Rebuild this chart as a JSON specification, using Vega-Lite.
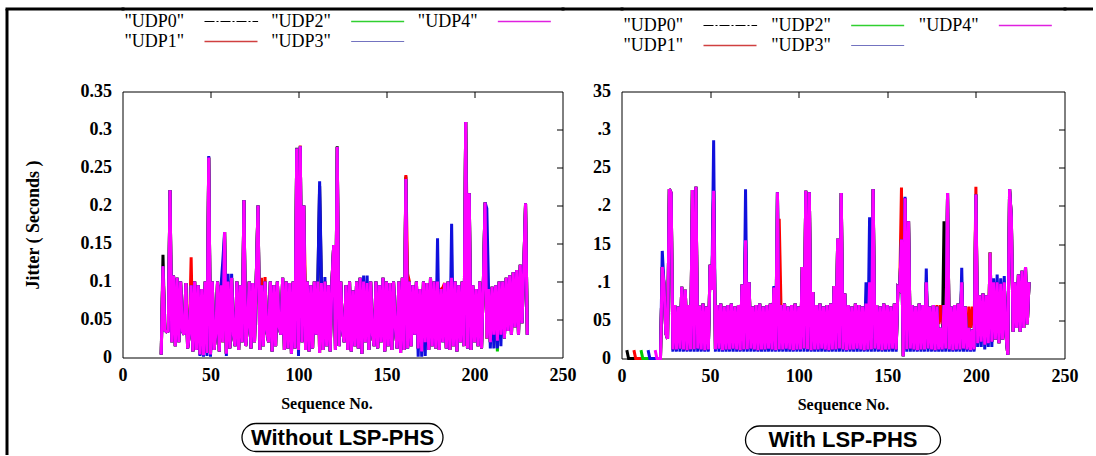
{
"$schema":"https://vega.github.io/schema/vega-lite/v6.json",
"background":"white",
"padding":{"left":6.5,"top":8.5,"right":0,"bottom":0},
"autosize":{"type":"pad"},
"columns":5,
"spacing":{"row":0,"column":0},
"bounds":"flush",
"align":{"row":"each","column":"each"},
"config":{
"view":{"stroke":null},
"axis":{"grid":false,"domain":false,"ticks":false,"labelFlush":false,"labelOverlap":false,"labelFont":"Liberation Serif","labelFontWeight":"bold","labelFontSize":18,"labelColor":"black","titleFont":"Liberation Serif","titleFontWeight":"bold","titleColor":"black","titleFontSize":16}
},
"datasets":{
"one":[{"k":1}],
"legend":[
{"series":"UDP0","label":"\"UDP0\"","col":0,"row":0},
{"series":"UDP1","label":"\"UDP1\"","col":0,"row":1},
{"series":"UDP2","label":"\"UDP2\"","col":1,"row":0},
{"series":"UDP3","label":"\"UDP3\"","col":1,"row":1},
{"series":"UDP4","label":"\"UDP4\"","col":2,"row":0}],
"left":[
{"seq":22,"UDP0":0.004,"UDP1":0.004,"UDP2":0.004,"UDP3":0.004,"UDP4":0.004},
{"seq":23,"UDP0":0.135,"UDP1":0.12,"UDP2":0.12,"UDP3":0.12,"UDP4":0.12},
{"seq":24,"UDP0":0.036,"UDP1":0.036,"UDP2":0.036,"UDP3":0.036,"UDP4":0.036},
{"seq":25,"UDP0":0.034,"UDP1":0.034,"UDP2":0.034,"UDP3":0.034,"UDP4":0.034},
{"seq":26,"UDP0":0.035,"UDP1":0.035,"UDP2":0.035,"UDP3":0.035,"UDP4":0.035},
{"seq":27,"UDP0":0.22,"UDP1":0.22,"UDP2":0.22,"UDP3":0.22,"UDP4":0.22},
{"seq":28,"UDP0":0.02,"UDP1":0.02,"UDP2":0.02,"UDP3":0.02,"UDP4":0.02},
{"seq":29,"UDP0":0.108,"UDP1":0.108,"UDP2":0.108,"UDP3":0.108,"UDP4":0.108},
{"seq":30,"UDP0":0.015,"UDP1":0.015,"UDP2":0.015,"UDP3":0.015,"UDP4":0.015},
{"seq":31,"UDP0":0.105,"UDP1":0.105,"UDP2":0.105,"UDP3":0.105,"UDP4":0.105},
{"seq":32,"UDP0":0.02,"UDP1":0.02,"UDP2":0.02,"UDP3":0.02,"UDP4":0.02},
{"seq":33,"UDP0":0.1,"UDP1":0.1,"UDP2":0.1,"UDP3":0.1,"UDP4":0.1},
{"seq":34,"UDP0":0.035,"UDP1":0.035,"UDP2":0.035,"UDP3":0.035,"UDP4":0.035},
{"seq":35,"UDP0":0.03,"UDP1":0.03,"UDP2":0.03,"UDP3":0.03,"UDP4":0.03},
{"seq":36,"UDP0":0.098,"UDP1":0.098,"UDP2":0.098,"UDP3":0.098,"UDP4":0.098},
{"seq":37,"UDP0":0.012,"UDP1":0.012,"UDP2":0.012,"UDP3":0.012,"UDP4":0.012},
{"seq":38,"UDP0":0.03,"UDP1":0.03,"UDP2":0.03,"UDP3":0.03,"UDP4":0.03},
{"seq":39,"UDP0":0.095,"UDP1":0.132,"UDP2":0.095,"UDP3":0.095,"UDP4":0.095},
{"seq":40,"UDP0":0.008,"UDP1":0.008,"UDP2":0.008,"UDP3":0.008,"UDP4":0.008},
{"seq":41,"UDP0":0.1,"UDP1":0.1,"UDP2":0.1,"UDP3":0.1,"UDP4":0.1},
{"seq":42,"UDP0":0.01,"UDP1":0.01,"UDP2":0.01,"UDP3":0.01,"UDP4":0.01},
{"seq":43,"UDP0":0.095,"UDP1":0.095,"UDP2":0.095,"UDP3":0.095,"UDP4":0.095},
{"seq":44,"UDP0":0.004,"UDP1":0.004,"UDP2":0.004,"UDP3":0.002,"UDP4":0.004},
{"seq":45,"UDP0":0.09,"UDP1":0.09,"UDP2":0.09,"UDP3":0.09,"UDP4":0.09},
{"seq":46,"UDP0":0.003,"UDP1":0.003,"UDP2":0.003,"UDP3":0.001,"UDP4":0.003},
{"seq":47,"UDP0":0.1,"UDP1":0.1,"UDP2":0.1,"UDP3":0.1,"UDP4":0.1},
{"seq":48,"UDP0":0.006,"UDP1":0.006,"UDP2":0.006,"UDP3":0.002,"UDP4":0.006},
{"seq":49,"UDP0":0.263,"UDP1":0.263,"UDP2":0.263,"UDP3":0.265,"UDP4":0.263},
{"seq":50,"UDP0":0.004,"UDP1":0.004,"UDP2":0.004,"UDP3":0.001,"UDP4":0.004},
{"seq":51,"UDP0":0.1,"UDP1":0.1,"UDP2":0.1,"UDP3":0.1,"UDP4":0.1},
{"seq":52,"UDP0":0.01,"UDP1":0.01,"UDP2":0.01,"UDP3":0.01,"UDP4":0.01},
{"seq":53,"UDP0":0.03,"UDP1":0.03,"UDP2":0.03,"UDP3":0.03,"UDP4":0.03},
{"seq":54,"UDP0":0.1,"UDP1":0.1,"UDP2":0.1,"UDP3":0.1,"UDP4":0.1},
{"seq":55,"UDP0":0.008,"UDP1":0.008,"UDP2":0.008,"UDP3":0.008,"UDP4":0.008},
{"seq":56,"UDP0":0.095,"UDP1":0.095,"UDP2":0.095,"UDP3":0.095,"UDP4":0.095},
{"seq":57,"UDP0":0.02,"UDP1":0.02,"UDP2":0.02,"UDP3":0.127,"UDP4":0.02},
{"seq":58,"UDP0":0.165,"UDP1":0.165,"UDP2":0.165,"UDP3":0.165,"UDP4":0.165},
{"seq":59,"UDP0":0.005,"UDP1":0.005,"UDP2":0.005,"UDP3":0.002,"UDP4":0.005},
{"seq":60,"UDP0":0.1,"UDP1":0.1,"UDP2":0.1,"UDP3":0.11,"UDP4":0.1},
{"seq":61,"UDP0":0.012,"UDP1":0.012,"UDP2":0.012,"UDP3":0.012,"UDP4":0.012},
{"seq":62,"UDP0":0.105,"UDP1":0.105,"UDP2":0.105,"UDP3":0.11,"UDP4":0.105},
{"seq":63,"UDP0":0.03,"UDP1":0.03,"UDP2":0.03,"UDP3":0.03,"UDP4":0.03},
{"seq":64,"UDP0":0.015,"UDP1":0.015,"UDP2":0.015,"UDP3":0.015,"UDP4":0.015},
{"seq":65,"UDP0":0.1,"UDP1":0.1,"UDP2":0.1,"UDP3":0.1,"UDP4":0.1},
{"seq":66,"UDP0":0.01,"UDP1":0.01,"UDP2":0.01,"UDP3":0.01,"UDP4":0.01},
{"seq":67,"UDP0":0.095,"UDP1":0.095,"UDP2":0.095,"UDP3":0.095,"UDP4":0.095},
{"seq":68,"UDP0":0.02,"UDP1":0.02,"UDP2":0.02,"UDP3":0.02,"UDP4":0.02},
{"seq":69,"UDP0":0.207,"UDP1":0.207,"UDP2":0.207,"UDP3":0.207,"UDP4":0.207},
{"seq":70,"UDP0":0.015,"UDP1":0.015,"UDP2":0.015,"UDP3":0.015,"UDP4":0.015},
{"seq":71,"UDP0":0.04,"UDP1":0.04,"UDP2":0.04,"UDP3":0.04,"UDP4":0.04},
{"seq":72,"UDP0":0.1,"UDP1":0.1,"UDP2":0.1,"UDP3":0.1,"UDP4":0.1},
{"seq":73,"UDP0":0.012,"UDP1":0.012,"UDP2":0.012,"UDP3":0.012,"UDP4":0.012},
{"seq":74,"UDP0":0.098,"UDP1":0.098,"UDP2":0.098,"UDP3":0.098,"UDP4":0.098},
{"seq":75,"UDP0":0.02,"UDP1":0.02,"UDP2":0.02,"UDP3":0.02,"UDP4":0.02},
{"seq":76,"UDP0":0.105,"UDP1":0.105,"UDP2":0.105,"UDP3":0.105,"UDP4":0.105},
{"seq":77,"UDP0":0.2,"UDP1":0.2,"UDP2":0.2,"UDP3":0.2,"UDP4":0.2},
{"seq":78,"UDP0":0.01,"UDP1":0.01,"UDP2":0.01,"UDP3":0.01,"UDP4":0.01},
{"seq":79,"UDP0":0.095,"UDP1":0.105,"UDP2":0.095,"UDP3":0.095,"UDP4":0.095},
{"seq":80,"UDP0":0.015,"UDP1":0.015,"UDP2":0.015,"UDP3":0.015,"UDP4":0.015},
{"seq":81,"UDP0":0.1,"UDP1":0.106,"UDP2":0.1,"UDP3":0.1,"UDP4":0.1},
{"seq":82,"UDP0":0.035,"UDP1":0.035,"UDP2":0.035,"UDP3":0.035,"UDP4":0.035},
{"seq":83,"UDP0":0.02,"UDP1":0.02,"UDP2":0.02,"UDP3":0.02,"UDP4":0.02},
{"seq":84,"UDP0":0.1,"UDP1":0.1,"UDP2":0.1,"UDP3":0.1,"UDP4":0.1},
{"seq":85,"UDP0":0.008,"UDP1":0.008,"UDP2":0.008,"UDP3":0.008,"UDP4":0.008},
{"seq":86,"UDP0":0.095,"UDP1":0.095,"UDP2":0.095,"UDP3":0.095,"UDP4":0.095},
{"seq":87,"UDP0":0.015,"UDP1":0.015,"UDP2":0.015,"UDP3":0.015,"UDP4":0.015},
{"seq":88,"UDP0":0.1,"UDP1":0.1,"UDP2":0.1,"UDP3":0.1,"UDP4":0.1},
{"seq":89,"UDP0":0.04,"UDP1":0.04,"UDP2":0.04,"UDP3":0.04,"UDP4":0.04},
{"seq":90,"UDP0":0.03,"UDP1":0.03,"UDP2":0.03,"UDP3":0.03,"UDP4":0.03},
{"seq":91,"UDP0":0.105,"UDP1":0.105,"UDP2":0.105,"UDP3":0.105,"UDP4":0.105},
{"seq":92,"UDP0":0.01,"UDP1":0.01,"UDP2":0.01,"UDP3":0.01,"UDP4":0.01},
{"seq":93,"UDP0":0.1,"UDP1":0.1,"UDP2":0.1,"UDP3":0.1,"UDP4":0.1},
{"seq":94,"UDP0":0.012,"UDP1":0.012,"UDP2":0.012,"UDP3":0.012,"UDP4":0.012},
{"seq":95,"UDP0":0.098,"UDP1":0.098,"UDP2":0.098,"UDP3":0.098,"UDP4":0.098},
{"seq":96,"UDP0":0.005,"UDP1":0.005,"UDP2":0.005,"UDP3":0.005,"UDP4":0.005},
{"seq":97,"UDP0":0.1,"UDP1":0.1,"UDP2":0.1,"UDP3":0.1,"UDP4":0.1},
{"seq":98,"UDP0":0.012,"UDP1":0.012,"UDP2":0.012,"UDP3":0.012,"UDP4":0.012},
{"seq":99,"UDP0":0.276,"UDP1":0.275,"UDP2":0.275,"UDP3":0.275,"UDP4":0.275},
{"seq":100,"UDP0":0.01,"UDP1":0.01,"UDP2":0.01,"UDP3":0.002,"UDP4":0.01},
{"seq":101,"UDP0":0.277,"UDP1":0.279,"UDP2":0.278,"UDP3":0.278,"UDP4":0.278},
{"seq":102,"UDP0":0.02,"UDP1":0.02,"UDP2":0.02,"UDP3":0.02,"UDP4":0.02},
{"seq":103,"UDP0":0.2,"UDP1":0.2,"UDP2":0.2,"UDP3":0.2,"UDP4":0.2},
{"seq":104,"UDP0":0.01,"UDP1":0.078,"UDP2":0.01,"UDP3":0.01,"UDP4":0.01},
{"seq":105,"UDP0":0.1,"UDP1":0.1,"UDP2":0.1,"UDP3":0.1,"UDP4":0.1},
{"seq":106,"UDP0":0.008,"UDP1":0.008,"UDP2":0.008,"UDP3":0.008,"UDP4":0.008},
{"seq":107,"UDP0":0.095,"UDP1":0.095,"UDP2":0.095,"UDP3":0.095,"UDP4":0.095},
{"seq":108,"UDP0":0.012,"UDP1":0.012,"UDP2":0.012,"UDP3":0.012,"UDP4":0.012},
{"seq":109,"UDP0":0.1,"UDP1":0.1,"UDP2":0.1,"UDP3":0.1,"UDP4":0.1},
{"seq":110,"UDP0":0.03,"UDP1":0.03,"UDP2":0.03,"UDP3":0.03,"UDP4":0.03},
{"seq":111,"UDP0":0.1,"UDP1":0.1,"UDP2":0.1,"UDP3":0.1,"UDP4":0.1},
{"seq":112,"UDP0":0.226,"UDP1":0.006,"UDP2":0.006,"UDP3":0.232,"UDP4":0.006},
{"seq":113,"UDP0":0.098,"UDP1":0.098,"UDP2":0.098,"UDP3":0.105,"UDP4":0.098},
{"seq":114,"UDP0":0.01,"UDP1":0.01,"UDP2":0.01,"UDP3":0.01,"UDP4":0.01},
{"seq":115,"UDP0":0.1,"UDP1":0.1,"UDP2":0.1,"UDP3":0.106,"UDP4":0.1},
{"seq":116,"UDP0":0.015,"UDP1":0.015,"UDP2":0.015,"UDP3":0.015,"UDP4":0.015},
{"seq":117,"UDP0":0.095,"UDP1":0.095,"UDP2":0.095,"UDP3":0.095,"UDP4":0.095},
{"seq":118,"UDP0":0.008,"UDP1":0.008,"UDP2":0.008,"UDP3":0.008,"UDP4":0.008},
{"seq":119,"UDP0":0.1,"UDP1":0.1,"UDP2":0.1,"UDP3":0.1,"UDP4":0.1},
{"seq":120,"UDP0":0.148,"UDP1":0.148,"UDP2":0.148,"UDP3":0.148,"UDP4":0.148},
{"seq":121,"UDP0":0.01,"UDP1":0.01,"UDP2":0.01,"UDP3":0.01,"UDP4":0.01},
{"seq":122,"UDP0":0.278,"UDP1":0.277,"UDP2":0.277,"UDP3":0.277,"UDP4":0.277},
{"seq":123,"UDP0":0.015,"UDP1":0.015,"UDP2":0.015,"UDP3":0.015,"UDP4":0.015},
{"seq":124,"UDP0":0.1,"UDP1":0.1,"UDP2":0.1,"UDP3":0.1,"UDP4":0.1},
{"seq":125,"UDP0":0.035,"UDP1":0.035,"UDP2":0.035,"UDP3":0.035,"UDP4":0.035},
{"seq":126,"UDP0":0.02,"UDP1":0.02,"UDP2":0.02,"UDP3":0.02,"UDP4":0.02},
{"seq":127,"UDP0":0.095,"UDP1":0.095,"UDP2":0.095,"UDP3":0.095,"UDP4":0.095},
{"seq":128,"UDP0":0.01,"UDP1":0.01,"UDP2":0.01,"UDP3":0.01,"UDP4":0.01},
{"seq":129,"UDP0":0.1,"UDP1":0.1,"UDP2":0.1,"UDP3":0.1,"UDP4":0.1},
{"seq":130,"UDP0":0.008,"UDP1":0.008,"UDP2":0.008,"UDP3":0.008,"UDP4":0.008},
{"seq":131,"UDP0":0.088,"UDP1":0.088,"UDP2":0.088,"UDP3":0.088,"UDP4":0.088},
{"seq":132,"UDP0":0.015,"UDP1":0.015,"UDP2":0.015,"UDP3":0.015,"UDP4":0.015},
{"seq":133,"UDP0":0.1,"UDP1":0.1,"UDP2":0.1,"UDP3":0.1,"UDP4":0.1},
{"seq":134,"UDP0":0.012,"UDP1":0.012,"UDP2":0.012,"UDP3":0.012,"UDP4":0.012},
{"seq":135,"UDP0":0.105,"UDP1":0.105,"UDP2":0.105,"UDP3":0.105,"UDP4":0.105},
{"seq":136,"UDP0":0.005,"UDP1":0.005,"UDP2":0.005,"UDP3":0.005,"UDP4":0.005},
{"seq":137,"UDP0":0.1,"UDP1":0.1,"UDP2":0.1,"UDP3":0.108,"UDP4":0.1},
{"seq":138,"UDP0":0.02,"UDP1":0.02,"UDP2":0.02,"UDP3":0.02,"UDP4":0.02},
{"seq":139,"UDP0":0.098,"UDP1":0.098,"UDP2":0.098,"UDP3":0.108,"UDP4":0.098},
{"seq":140,"UDP0":0.01,"UDP1":0.01,"UDP2":0.01,"UDP3":0.01,"UDP4":0.01},
{"seq":141,"UDP0":0.1,"UDP1":0.1,"UDP2":0.1,"UDP3":0.1,"UDP4":0.1},
{"seq":142,"UDP0":0.03,"UDP1":0.03,"UDP2":0.03,"UDP3":0.03,"UDP4":0.03},
{"seq":143,"UDP0":0.015,"UDP1":0.015,"UDP2":0.015,"UDP3":0.015,"UDP4":0.015},
{"seq":144,"UDP0":0.1,"UDP1":0.1,"UDP2":0.1,"UDP3":0.1,"UDP4":0.1},
{"seq":145,"UDP0":0.012,"UDP1":0.012,"UDP2":0.012,"UDP3":0.012,"UDP4":0.012},
{"seq":146,"UDP0":0.095,"UDP1":0.095,"UDP2":0.095,"UDP3":0.095,"UDP4":0.095},
{"seq":147,"UDP0":0.02,"UDP1":0.02,"UDP2":0.02,"UDP3":0.02,"UDP4":0.02},
{"seq":148,"UDP0":0.105,"UDP1":0.105,"UDP2":0.105,"UDP3":0.105,"UDP4":0.105},
{"seq":149,"UDP0":0.008,"UDP1":0.008,"UDP2":0.008,"UDP3":0.008,"UDP4":0.008},
{"seq":150,"UDP0":0.1,"UDP1":0.1,"UDP2":0.1,"UDP3":0.1,"UDP4":0.1},
{"seq":151,"UDP0":0.015,"UDP1":0.015,"UDP2":0.015,"UDP3":0.015,"UDP4":0.015},
{"seq":152,"UDP0":0.098,"UDP1":0.098,"UDP2":0.098,"UDP3":0.098,"UDP4":0.098},
{"seq":153,"UDP0":0.01,"UDP1":0.01,"UDP2":0.01,"UDP3":0.01,"UDP4":0.01},
{"seq":154,"UDP0":0.1,"UDP1":0.1,"UDP2":0.1,"UDP3":0.1,"UDP4":0.1},
{"seq":155,"UDP0":0.04,"UDP1":0.04,"UDP2":0.04,"UDP3":0.04,"UDP4":0.04},
{"seq":156,"UDP0":0.012,"UDP1":0.012,"UDP2":0.012,"UDP3":0.012,"UDP4":0.012},
{"seq":157,"UDP0":0.1,"UDP1":0.1,"UDP2":0.1,"UDP3":0.1,"UDP4":0.1},
{"seq":158,"UDP0":0.006,"UDP1":0.006,"UDP2":0.006,"UDP3":0.006,"UDP4":0.006},
{"seq":159,"UDP0":0.105,"UDP1":0.105,"UDP2":0.105,"UDP3":0.105,"UDP4":0.105},
{"seq":160,"UDP0":0.01,"UDP1":0.01,"UDP2":0.01,"UDP3":0.01,"UDP4":0.01},
{"seq":161,"UDP0":0.238,"UDP1":0.24,"UDP2":0.235,"UDP3":0.235,"UDP4":0.235},
{"seq":162,"UDP0":0.012,"UDP1":0.11,"UDP2":0.012,"UDP3":0.012,"UDP4":0.012},
{"seq":163,"UDP0":0.1,"UDP1":0.1,"UDP2":0.1,"UDP3":0.1,"UDP4":0.1},
{"seq":164,"UDP0":0.015,"UDP1":0.015,"UDP2":0.015,"UDP3":0.015,"UDP4":0.015},
{"seq":165,"UDP0":0.095,"UDP1":0.095,"UDP2":0.095,"UDP3":0.095,"UDP4":0.095},
{"seq":166,"UDP0":0.03,"UDP1":0.03,"UDP2":0.03,"UDP3":0.03,"UDP4":0.03},
{"seq":167,"UDP0":0.1,"UDP1":0.1,"UDP2":0.1,"UDP3":0.1,"UDP4":0.1},
{"seq":168,"UDP0":0.012,"UDP1":0.012,"UDP2":0.012,"UDP3":0.001,"UDP4":0.012},
{"seq":169,"UDP0":0.09,"UDP1":0.09,"UDP2":0.09,"UDP3":0.09,"UDP4":0.09},
{"seq":170,"UDP0":0.008,"UDP1":0.008,"UDP2":0.008,"UDP3":0.001,"UDP4":0.008},
{"seq":171,"UDP0":0.1,"UDP1":0.1,"UDP2":0.1,"UDP3":0.1,"UDP4":0.1},
{"seq":172,"UDP0":0.02,"UDP1":0.02,"UDP2":0.02,"UDP3":0.002,"UDP4":0.02},
{"seq":173,"UDP0":0.098,"UDP1":0.098,"UDP2":0.098,"UDP3":0.098,"UDP4":0.098},
{"seq":174,"UDP0":0.01,"UDP1":0.01,"UDP2":0.01,"UDP3":0.01,"UDP4":0.01},
{"seq":175,"UDP0":0.105,"UDP1":0.105,"UDP2":0.105,"UDP3":0.105,"UDP4":0.105},
{"seq":176,"UDP0":0.015,"UDP1":0.015,"UDP2":0.015,"UDP3":0.015,"UDP4":0.015},
{"seq":177,"UDP0":0.1,"UDP1":0.1,"UDP2":0.1,"UDP3":0.1,"UDP4":0.1},
{"seq":178,"UDP0":0.012,"UDP1":0.012,"UDP2":0.012,"UDP3":0.012,"UDP4":0.012},
{"seq":179,"UDP0":0.1,"UDP1":0.1,"UDP2":0.1,"UDP3":0.157,"UDP4":0.1},
{"seq":180,"UDP0":0.01,"UDP1":0.01,"UDP2":0.01,"UDP3":0.01,"UDP4":0.01},
{"seq":181,"UDP0":0.09,"UDP1":0.09,"UDP2":0.09,"UDP3":0.09,"UDP4":0.09},
{"seq":182,"UDP0":0.02,"UDP1":0.092,"UDP2":0.02,"UDP3":0.02,"UDP4":0.02},
{"seq":183,"UDP0":0.098,"UDP1":0.098,"UDP2":0.098,"UDP3":0.098,"UDP4":0.098},
{"seq":184,"UDP0":0.012,"UDP1":0.012,"UDP2":0.012,"UDP3":0.012,"UDP4":0.012},
{"seq":185,"UDP0":0.1,"UDP1":0.1,"UDP2":0.1,"UDP3":0.1,"UDP4":0.1},
{"seq":186,"UDP0":0.01,"UDP1":0.01,"UDP2":0.01,"UDP3":0.01,"UDP4":0.01},
{"seq":187,"UDP0":0.105,"UDP1":0.105,"UDP2":0.105,"UDP3":0.176,"UDP4":0.105},
{"seq":188,"UDP0":0.015,"UDP1":0.015,"UDP2":0.015,"UDP3":0.015,"UDP4":0.015},
{"seq":189,"UDP0":0.1,"UDP1":0.1,"UDP2":0.1,"UDP3":0.1,"UDP4":0.1},
{"seq":190,"UDP0":0.008,"UDP1":0.008,"UDP2":0.008,"UDP3":0.008,"UDP4":0.008},
{"seq":191,"UDP0":0.095,"UDP1":0.095,"UDP2":0.095,"UDP3":0.095,"UDP4":0.095},
{"seq":192,"UDP0":0.02,"UDP1":0.02,"UDP2":0.02,"UDP3":0.02,"UDP4":0.02},
{"seq":193,"UDP0":0.1,"UDP1":0.1,"UDP2":0.1,"UDP3":0.1,"UDP4":0.1},
{"seq":194,"UDP0":0.015,"UDP1":0.015,"UDP2":0.015,"UDP3":0.015,"UDP4":0.015},
{"seq":195,"UDP0":0.31,"UDP1":0.31,"UDP2":0.31,"UDP3":0.31,"UDP4":0.31},
{"seq":196,"UDP0":0.012,"UDP1":0.14,"UDP2":0.012,"UDP3":0.012,"UDP4":0.012},
{"seq":197,"UDP0":0.216,"UDP1":0.216,"UDP2":0.216,"UDP3":0.216,"UDP4":0.216},
{"seq":198,"UDP0":0.01,"UDP1":0.01,"UDP2":0.01,"UDP3":0.01,"UDP4":0.01},
{"seq":199,"UDP0":0.095,"UDP1":0.095,"UDP2":0.095,"UDP3":0.095,"UDP4":0.095},
{"seq":200,"UDP0":0.02,"UDP1":0.02,"UDP2":0.02,"UDP3":0.02,"UDP4":0.02},
{"seq":201,"UDP0":0.09,"UDP1":0.09,"UDP2":0.09,"UDP3":0.09,"UDP4":0.09},
{"seq":202,"UDP0":0.015,"UDP1":0.015,"UDP2":0.015,"UDP3":0.015,"UDP4":0.015},
{"seq":203,"UDP0":0.1,"UDP1":0.1,"UDP2":0.1,"UDP3":0.1,"UDP4":0.1},
{"seq":204,"UDP0":0.012,"UDP1":0.012,"UDP2":0.012,"UDP3":0.012,"UDP4":0.012},
{"seq":205,"UDP0":0.095,"UDP1":0.095,"UDP2":0.095,"UDP3":0.095,"UDP4":0.095},
{"seq":206,"UDP0":0.204,"UDP1":0.204,"UDP2":0.204,"UDP3":0.204,"UDP4":0.204},
{"seq":207,"UDP0":0.025,"UDP1":0.025,"UDP2":0.025,"UDP3":0.196,"UDP4":0.025},
{"seq":208,"UDP0":0.09,"UDP1":0.09,"UDP2":0.09,"UDP3":0.09,"UDP4":0.09},
{"seq":209,"UDP0":0.02,"UDP1":0.02,"UDP2":0.02,"UDP3":0.012,"UDP4":0.02},
{"seq":210,"UDP0":0.093,"UDP1":0.093,"UDP2":0.093,"UDP3":0.093,"UDP4":0.093},
{"seq":211,"UDP0":0.03,"UDP1":0.03,"UDP2":0.03,"UDP3":0.012,"UDP4":0.03},
{"seq":212,"UDP0":0.095,"UDP1":0.095,"UDP2":0.095,"UDP3":0.095,"UDP4":0.095},
{"seq":213,"UDP0":0.022,"UDP1":0.022,"UDP2":0.008,"UDP3":0.012,"UDP4":0.022},
{"seq":214,"UDP0":0.1,"UDP1":0.1,"UDP2":0.1,"UDP3":0.1,"UDP4":0.1},
{"seq":215,"UDP0":0.03,"UDP1":0.03,"UDP2":0.03,"UDP3":0.015,"UDP4":0.03},
{"seq":216,"UDP0":0.1,"UDP1":0.1,"UDP2":0.1,"UDP3":0.1,"UDP4":0.1},
{"seq":217,"UDP0":0.025,"UDP1":0.025,"UDP2":0.025,"UDP3":0.025,"UDP4":0.025},
{"seq":218,"UDP0":0.105,"UDP1":0.105,"UDP2":0.105,"UDP3":0.105,"UDP4":0.105},
{"seq":219,"UDP0":0.035,"UDP1":0.035,"UDP2":0.035,"UDP3":0.035,"UDP4":0.035},
{"seq":220,"UDP0":0.108,"UDP1":0.108,"UDP2":0.108,"UDP3":0.108,"UDP4":0.108},
{"seq":221,"UDP0":0.03,"UDP1":0.03,"UDP2":0.03,"UDP3":0.03,"UDP4":0.03},
{"seq":222,"UDP0":0.112,"UDP1":0.112,"UDP2":0.112,"UDP3":0.112,"UDP4":0.112},
{"seq":223,"UDP0":0.04,"UDP1":0.04,"UDP2":0.04,"UDP3":0.04,"UDP4":0.04},
{"seq":224,"UDP0":0.115,"UDP1":0.115,"UDP2":0.115,"UDP3":0.115,"UDP4":0.115},
{"seq":225,"UDP0":0.03,"UDP1":0.03,"UDP2":0.03,"UDP3":0.03,"UDP4":0.03},
{"seq":226,"UDP0":0.122,"UDP1":0.122,"UDP2":0.122,"UDP3":0.122,"UDP4":0.122},
{"seq":227,"UDP0":0.045,"UDP1":0.045,"UDP2":0.045,"UDP3":0.045,"UDP4":0.045},
{"seq":228,"UDP0":0.118,"UDP1":0.118,"UDP2":0.118,"UDP3":0.118,"UDP4":0.118},
{"seq":229,"UDP0":0.203,"UDP1":0.203,"UDP2":0.203,"UDP3":0.203,"UDP4":0.203},
{"seq":230,"UDP0":0.03,"UDP1":0.03,"UDP2":0.03,"UDP3":0.03,"UDP4":0.03}
],
"right":[
{"seq":3,"UDP0":0.011},{"seq":4,"UDP0":0},
{"seq":7,"UDP1":0.011},{"seq":8,"UDP1":0},
{"seq":11,"UDP2":0.011},{"seq":12,"UDP2":0},
{"seq":15,"UDP3":0.011},{"seq":16,"UDP3":0},
{"seq":19,"UDP4":0.011},{"seq":20,"UDP4":0},
{"seq":22,"UDP0":0,"UDP1":0,"UDP2":0,"UDP3":0,"UDP4":0},
{"seq":23,"UDP0":0.12,"UDP1":0.12,"UDP2":0.12,"UDP3":0.141,"UDP4":0.12},
{"seq":24,"UDP0":0.097,"UDP1":0.097,"UDP2":0.097,"UDP3":0.097,"UDP4":0.097},
{"seq":25,"UDP0":0.033,"UDP1":0.033,"UDP2":0.033,"UDP3":0.033,"UDP4":0.033},
{"seq":26,"UDP0":0.026,"UDP1":0.026,"UDP2":0.026,"UDP3":0.026,"UDP4":0.026},
{"seq":27,"UDP0":0.222,"UDP1":0.222,"UDP2":0.222,"UDP3":0.222,"UDP4":0.222},
{"seq":28,"UDP0":0.217,"UDP1":0.217,"UDP2":0.217,"UDP3":0.217,"UDP4":0.217},
{"seq":29,"UDP0":0.012,"UDP1":0.012,"UDP2":0.012,"UDP3":0.009,"UDP4":0.012},
{"seq":30,"UDP0":0.07,"UDP1":0.07,"UDP2":0.07,"UDP3":0.07,"UDP4":0.07},
{"seq":31,"UDP0":0.012,"UDP1":0.012,"UDP2":0.012,"UDP3":0.009,"UDP4":0.012},
{"seq":32,"UDP0":0.068,"UDP1":0.068,"UDP2":0.068,"UDP3":0.068,"UDP4":0.068},
{"seq":33,"UDP0":0.013,"UDP1":0.013,"UDP2":0.013,"UDP3":0.009,"UDP4":0.013},
{"seq":34,"UDP0":0.094,"UDP1":0.094,"UDP2":0.094,"UDP3":0.094,"UDP4":0.094},
{"seq":35,"UDP0":0.012,"UDP1":0.012,"UDP2":0.012,"UDP3":0.009,"UDP4":0.012},
{"seq":36,"UDP0":0.09,"UDP1":0.09,"UDP2":0.09,"UDP3":0.09,"UDP4":0.09},
{"seq":37,"UDP0":0.011,"UDP1":0.011,"UDP2":0.011,"UDP3":0.009,"UDP4":0.011},
{"seq":38,"UDP0":0.07,"UDP1":0.07,"UDP2":0.07,"UDP3":0.07,"UDP4":0.07},
{"seq":39,"UDP0":0.012,"UDP1":0.012,"UDP2":0.012,"UDP3":0.009,"UDP4":0.012},
{"seq":40,"UDP0":0.221,"UDP1":0.221,"UDP2":0.221,"UDP3":0.221,"UDP4":0.221},
{"seq":41,"UDP0":0.012,"UDP1":0.012,"UDP2":0.012,"UDP3":0.009,"UDP4":0.012},
{"seq":42,"UDP0":0.225,"UDP1":0.225,"UDP2":0.225,"UDP3":0.225,"UDP4":0.225},
{"seq":43,"UDP0":0.013,"UDP1":0.013,"UDP2":0.013,"UDP3":0.009,"UDP4":0.013},
{"seq":44,"UDP0":0.069,"UDP1":0.069,"UDP2":0.069,"UDP3":0.069,"UDP4":0.069},
{"seq":45,"UDP0":0.012,"UDP1":0.012,"UDP2":0.012,"UDP3":0.009,"UDP4":0.012},
{"seq":46,"UDP0":0.072,"UDP1":0.072,"UDP2":0.072,"UDP3":0.072,"UDP4":0.072},
{"seq":47,"UDP0":0.011,"UDP1":0.011,"UDP2":0.011,"UDP3":0.009,"UDP4":0.011},
{"seq":48,"UDP0":0.068,"UDP1":0.068,"UDP2":0.068,"UDP3":0.068,"UDP4":0.068},
{"seq":49,"UDP0":0.012,"UDP1":0.012,"UDP2":0.012,"UDP3":0.009,"UDP4":0.012},
{"seq":50,"UDP0":0.123,"UDP1":0.123,"UDP2":0.123,"UDP3":0.123,"UDP4":0.123},
{"seq":51,"UDP0":0.09,"UDP1":0.09,"UDP2":0.09,"UDP3":0.09,"UDP4":0.09},
{"seq":52,"UDP0":0.22,"UDP1":0.22,"UDP2":0.22,"UDP3":0.286,"UDP4":0.22},
{"seq":53,"UDP0":0.012,"UDP1":0.012,"UDP2":0.012,"UDP3":0.009,"UDP4":0.012},
{"seq":54,"UDP0":0.07,"UDP1":0.07,"UDP2":0.07,"UDP3":0.07,"UDP4":0.07},
{"seq":55,"UDP0":0.013,"UDP1":0.013,"UDP2":0.013,"UDP3":0.009,"UDP4":0.013},
{"seq":56,"UDP0":0.072,"UDP1":0.072,"UDP2":0.072,"UDP3":0.072,"UDP4":0.072},
{"seq":57,"UDP0":0.011,"UDP1":0.011,"UDP2":0.011,"UDP3":0.009,"UDP4":0.011},
{"seq":58,"UDP0":0.068,"UDP1":0.068,"UDP2":0.068,"UDP3":0.068,"UDP4":0.068},
{"seq":59,"UDP0":0.012,"UDP1":0.012,"UDP2":0.012,"UDP3":0.009,"UDP4":0.012},
{"seq":60,"UDP0":0.07,"UDP1":0.07,"UDP2":0.07,"UDP3":0.07,"UDP4":0.07},
{"seq":61,"UDP0":0.012,"UDP1":0.012,"UDP2":0.012,"UDP3":0.009,"UDP4":0.012},
{"seq":62,"UDP0":0.072,"UDP1":0.072,"UDP2":0.072,"UDP3":0.072,"UDP4":0.072},
{"seq":63,"UDP0":0.013,"UDP1":0.013,"UDP2":0.013,"UDP3":0.009,"UDP4":0.013},
{"seq":64,"UDP0":0.068,"UDP1":0.068,"UDP2":0.068,"UDP3":0.068,"UDP4":0.068},
{"seq":65,"UDP0":0.012,"UDP1":0.012,"UDP2":0.012,"UDP3":0.009,"UDP4":0.012},
{"seq":66,"UDP0":0.07,"UDP1":0.07,"UDP2":0.07,"UDP3":0.07,"UDP4":0.07},
{"seq":67,"UDP0":0.011,"UDP1":0.011,"UDP2":0.011,"UDP3":0.009,"UDP4":0.011},
{"seq":68,"UDP0":0.097,"UDP1":0.097,"UDP2":0.097,"UDP3":0.097,"UDP4":0.097},
{"seq":69,"UDP0":0.012,"UDP1":0.012,"UDP2":0.012,"UDP3":0.009,"UDP4":0.012},
{"seq":70,"UDP0":0.155,"UDP1":0.155,"UDP2":0.155,"UDP3":0.222,"UDP4":0.155},
{"seq":71,"UDP0":0.012,"UDP1":0.012,"UDP2":0.012,"UDP3":0.009,"UDP4":0.012},
{"seq":72,"UDP0":0.1,"UDP1":0.1,"UDP2":0.1,"UDP3":0.1,"UDP4":0.1},
{"seq":73,"UDP0":0.013,"UDP1":0.013,"UDP2":0.013,"UDP3":0.009,"UDP4":0.013},
{"seq":74,"UDP0":0.068,"UDP1":0.068,"UDP2":0.068,"UDP3":0.068,"UDP4":0.068},
{"seq":75,"UDP0":0.012,"UDP1":0.012,"UDP2":0.012,"UDP3":0.009,"UDP4":0.012},
{"seq":76,"UDP0":0.07,"UDP1":0.07,"UDP2":0.07,"UDP3":0.07,"UDP4":0.07},
{"seq":77,"UDP0":0.011,"UDP1":0.011,"UDP2":0.011,"UDP3":0.009,"UDP4":0.011},
{"seq":78,"UDP0":0.072,"UDP1":0.072,"UDP2":0.072,"UDP3":0.072,"UDP4":0.072},
{"seq":79,"UDP0":0.012,"UDP1":0.012,"UDP2":0.012,"UDP3":0.009,"UDP4":0.012},
{"seq":80,"UDP0":0.068,"UDP1":0.068,"UDP2":0.068,"UDP3":0.068,"UDP4":0.068},
{"seq":81,"UDP0":0.012,"UDP1":0.012,"UDP2":0.012,"UDP3":0.009,"UDP4":0.012},
{"seq":82,"UDP0":0.07,"UDP1":0.07,"UDP2":0.07,"UDP3":0.07,"UDP4":0.07},
{"seq":83,"UDP0":0.013,"UDP1":0.013,"UDP2":0.013,"UDP3":0.009,"UDP4":0.013},
{"seq":84,"UDP0":0.072,"UDP1":0.072,"UDP2":0.072,"UDP3":0.072,"UDP4":0.072},
{"seq":85,"UDP0":0.012,"UDP1":0.012,"UDP2":0.012,"UDP3":0.009,"UDP4":0.012},
{"seq":86,"UDP0":0.093,"UDP1":0.093,"UDP2":0.093,"UDP3":0.095,"UDP4":0.093},
{"seq":87,"UDP0":0.011,"UDP1":0.011,"UDP2":0.011,"UDP3":0.009,"UDP4":0.011},
{"seq":88,"UDP0":0.218,"UDP1":0.07,"UDP2":0.218,"UDP3":0.218,"UDP4":0.218},
{"seq":89,"UDP0":0.012,"UDP1":0.183,"UDP2":0.012,"UDP3":0.009,"UDP4":0.012},
{"seq":90,"UDP0":0.07,"UDP1":0.07,"UDP2":0.07,"UDP3":0.07,"UDP4":0.07},
{"seq":91,"UDP0":0.012,"UDP1":0.012,"UDP2":0.012,"UDP3":0.009,"UDP4":0.012},
{"seq":92,"UDP0":0.072,"UDP1":0.072,"UDP2":0.072,"UDP3":0.072,"UDP4":0.072},
{"seq":93,"UDP0":0.013,"UDP1":0.013,"UDP2":0.013,"UDP3":0.009,"UDP4":0.013},
{"seq":94,"UDP0":0.068,"UDP1":0.068,"UDP2":0.068,"UDP3":0.068,"UDP4":0.068},
{"seq":95,"UDP0":0.012,"UDP1":0.012,"UDP2":0.012,"UDP3":0.009,"UDP4":0.012},
{"seq":96,"UDP0":0.07,"UDP1":0.07,"UDP2":0.07,"UDP3":0.07,"UDP4":0.07},
{"seq":97,"UDP0":0.011,"UDP1":0.011,"UDP2":0.011,"UDP3":0.009,"UDP4":0.011},
{"seq":98,"UDP0":0.072,"UDP1":0.072,"UDP2":0.072,"UDP3":0.072,"UDP4":0.072},
{"seq":99,"UDP0":0.012,"UDP1":0.012,"UDP2":0.012,"UDP3":0.009,"UDP4":0.012},
{"seq":100,"UDP0":0.068,"UDP1":0.068,"UDP2":0.068,"UDP3":0.068,"UDP4":0.068},
{"seq":101,"UDP0":0.012,"UDP1":0.012,"UDP2":0.012,"UDP3":0.009,"UDP4":0.012},
{"seq":102,"UDP0":0.12,"UDP1":0.12,"UDP2":0.12,"UDP3":0.12,"UDP4":0.12},
{"seq":103,"UDP0":0.013,"UDP1":0.013,"UDP2":0.013,"UDP3":0.009,"UDP4":0.013},
{"seq":104,"UDP0":0.22,"UDP1":0.22,"UDP2":0.22,"UDP3":0.22,"UDP4":0.22},
{"seq":105,"UDP0":0.012,"UDP1":0.012,"UDP2":0.012,"UDP3":0.009,"UDP4":0.012},
{"seq":106,"UDP0":0.218,"UDP1":0.218,"UDP2":0.218,"UDP3":0.218,"UDP4":0.218},
{"seq":107,"UDP0":0.011,"UDP1":0.011,"UDP2":0.011,"UDP3":0.009,"UDP4":0.011},
{"seq":108,"UDP0":0.087,"UDP1":0.087,"UDP2":0.087,"UDP3":0.087,"UDP4":0.087},
{"seq":109,"UDP0":0.012,"UDP1":0.012,"UDP2":0.012,"UDP3":0.009,"UDP4":0.012},
{"seq":110,"UDP0":0.07,"UDP1":0.07,"UDP2":0.07,"UDP3":0.07,"UDP4":0.07},
{"seq":111,"UDP0":0.012,"UDP1":0.012,"UDP2":0.012,"UDP3":0.009,"UDP4":0.012},
{"seq":112,"UDP0":0.072,"UDP1":0.072,"UDP2":0.072,"UDP3":0.072,"UDP4":0.072},
{"seq":113,"UDP0":0.013,"UDP1":0.013,"UDP2":0.013,"UDP3":0.009,"UDP4":0.013},
{"seq":114,"UDP0":0.068,"UDP1":0.068,"UDP2":0.068,"UDP3":0.068,"UDP4":0.068},
{"seq":115,"UDP0":0.012,"UDP1":0.012,"UDP2":0.012,"UDP3":0.009,"UDP4":0.012},
{"seq":116,"UDP0":0.07,"UDP1":0.07,"UDP2":0.07,"UDP3":0.07,"UDP4":0.07},
{"seq":117,"UDP0":0.011,"UDP1":0.011,"UDP2":0.011,"UDP3":0.009,"UDP4":0.011},
{"seq":118,"UDP0":0.072,"UDP1":0.072,"UDP2":0.072,"UDP3":0.072,"UDP4":0.072},
{"seq":119,"UDP0":0.012,"UDP1":0.012,"UDP2":0.012,"UDP3":0.009,"UDP4":0.012},
{"seq":120,"UDP0":0.095,"UDP1":0.095,"UDP2":0.095,"UDP3":0.095,"UDP4":0.095},
{"seq":121,"UDP0":0.012,"UDP1":0.012,"UDP2":0.012,"UDP3":0.009,"UDP4":0.012},
{"seq":122,"UDP0":0.157,"UDP1":0.157,"UDP2":0.157,"UDP3":0.157,"UDP4":0.157},
{"seq":123,"UDP0":0.013,"UDP1":0.013,"UDP2":0.013,"UDP3":0.009,"UDP4":0.013},
{"seq":124,"UDP0":0.217,"UDP1":0.217,"UDP2":0.217,"UDP3":0.217,"UDP4":0.217},
{"seq":125,"UDP0":0.012,"UDP1":0.012,"UDP2":0.012,"UDP3":0.009,"UDP4":0.012},
{"seq":126,"UDP0":0.085,"UDP1":0.085,"UDP2":0.085,"UDP3":0.085,"UDP4":0.085},
{"seq":127,"UDP0":0.011,"UDP1":0.011,"UDP2":0.011,"UDP3":0.009,"UDP4":0.011},
{"seq":128,"UDP0":0.07,"UDP1":0.07,"UDP2":0.07,"UDP3":0.07,"UDP4":0.07},
{"seq":129,"UDP0":0.012,"UDP1":0.012,"UDP2":0.012,"UDP3":0.009,"UDP4":0.012},
{"seq":130,"UDP0":0.068,"UDP1":0.068,"UDP2":0.068,"UDP3":0.068,"UDP4":0.068},
{"seq":131,"UDP0":0.012,"UDP1":0.012,"UDP2":0.012,"UDP3":0.009,"UDP4":0.012},
{"seq":132,"UDP0":0.072,"UDP1":0.072,"UDP2":0.072,"UDP3":0.072,"UDP4":0.072},
{"seq":133,"UDP0":0.013,"UDP1":0.013,"UDP2":0.013,"UDP3":0.009,"UDP4":0.013},
{"seq":134,"UDP0":0.07,"UDP1":0.07,"UDP2":0.07,"UDP3":0.07,"UDP4":0.07},
{"seq":135,"UDP0":0.012,"UDP1":0.012,"UDP2":0.012,"UDP3":0.009,"UDP4":0.012},
{"seq":136,"UDP0":0.068,"UDP1":0.068,"UDP2":0.068,"UDP3":0.068,"UDP4":0.068},
{"seq":137,"UDP0":0.011,"UDP1":0.011,"UDP2":0.011,"UDP3":0.009,"UDP4":0.011},
{"seq":138,"UDP0":0.072,"UDP1":0.072,"UDP2":0.072,"UDP3":0.1,"UDP4":0.072},
{"seq":139,"UDP0":0.012,"UDP1":0.012,"UDP2":0.012,"UDP3":0.009,"UDP4":0.012},
{"seq":140,"UDP0":0.1,"UDP1":0.1,"UDP2":0.1,"UDP3":0.185,"UDP4":0.1},
{"seq":141,"UDP0":0.012,"UDP1":0.012,"UDP2":0.012,"UDP3":0.009,"UDP4":0.012},
{"seq":142,"UDP0":0.222,"UDP1":0.222,"UDP2":0.222,"UDP3":0.222,"UDP4":0.222},
{"seq":143,"UDP0":0.013,"UDP1":0.013,"UDP2":0.013,"UDP3":0.009,"UDP4":0.013},
{"seq":144,"UDP0":0.07,"UDP1":0.07,"UDP2":0.07,"UDP3":0.07,"UDP4":0.07},
{"seq":145,"UDP0":0.012,"UDP1":0.012,"UDP2":0.012,"UDP3":0.009,"UDP4":0.012},
{"seq":146,"UDP0":0.068,"UDP1":0.068,"UDP2":0.068,"UDP3":0.068,"UDP4":0.068},
{"seq":147,"UDP0":0.011,"UDP1":0.011,"UDP2":0.011,"UDP3":0.009,"UDP4":0.011},
{"seq":148,"UDP0":0.072,"UDP1":0.072,"UDP2":0.072,"UDP3":0.072,"UDP4":0.072},
{"seq":149,"UDP0":0.012,"UDP1":0.012,"UDP2":0.012,"UDP3":0.009,"UDP4":0.012},
{"seq":150,"UDP0":0.07,"UDP1":0.07,"UDP2":0.07,"UDP3":0.07,"UDP4":0.07},
{"seq":151,"UDP0":0.012,"UDP1":0.012,"UDP2":0.012,"UDP3":0.009,"UDP4":0.012},
{"seq":152,"UDP0":0.068,"UDP1":0.068,"UDP2":0.068,"UDP3":0.068,"UDP4":0.068},
{"seq":153,"UDP0":0.013,"UDP1":0.013,"UDP2":0.013,"UDP3":0.009,"UDP4":0.013},
{"seq":154,"UDP0":0.072,"UDP1":0.072,"UDP2":0.072,"UDP3":0.072,"UDP4":0.072},
{"seq":155,"UDP0":0.012,"UDP1":0.012,"UDP2":0.012,"UDP3":0.009,"UDP4":0.012},
{"seq":156,"UDP0":0.093,"UDP1":0.093,"UDP2":0.093,"UDP3":0.093,"UDP4":0.093},
{"seq":157,"UDP0":0.09,"UDP1":0.09,"UDP2":0.09,"UDP3":0.09,"UDP4":0.09},
{"seq":158,"UDP0":0.156,"UDP1":0.224,"UDP2":0.156,"UDP3":0.156,"UDP4":0.156},
{"seq":159,"UDP0":0.003,"UDP1":0.003,"UDP2":0.003,"UDP3":0.003,"UDP4":0.003},
{"seq":160,"UDP0":0.21,"UDP1":0.21,"UDP2":0.21,"UDP3":0.212,"UDP4":0.21},
{"seq":161,"UDP0":0.012,"UDP1":0.012,"UDP2":0.012,"UDP3":0.009,"UDP4":0.012},
{"seq":162,"UDP0":0.18,"UDP1":0.18,"UDP2":0.18,"UDP3":0.18,"UDP4":0.18},
{"seq":163,"UDP0":0.013,"UDP1":0.013,"UDP2":0.013,"UDP3":0.009,"UDP4":0.013},
{"seq":164,"UDP0":0.07,"UDP1":0.07,"UDP2":0.07,"UDP3":0.07,"UDP4":0.07},
{"seq":165,"UDP0":0.012,"UDP1":0.012,"UDP2":0.012,"UDP3":0.009,"UDP4":0.012},
{"seq":166,"UDP0":0.068,"UDP1":0.068,"UDP2":0.068,"UDP3":0.068,"UDP4":0.068},
{"seq":167,"UDP0":0.011,"UDP1":0.011,"UDP2":0.011,"UDP3":0.009,"UDP4":0.011},
{"seq":168,"UDP0":0.072,"UDP1":0.072,"UDP2":0.072,"UDP3":0.072,"UDP4":0.072},
{"seq":169,"UDP0":0.012,"UDP1":0.012,"UDP2":0.012,"UDP3":0.009,"UDP4":0.012},
{"seq":170,"UDP0":0.07,"UDP1":0.07,"UDP2":0.07,"UDP3":0.07,"UDP4":0.07},
{"seq":171,"UDP0":0.012,"UDP1":0.012,"UDP2":0.012,"UDP3":0.009,"UDP4":0.012},
{"seq":172,"UDP0":0.1,"UDP1":0.1,"UDP2":0.1,"UDP3":0.118,"UDP4":0.1},
{"seq":173,"UDP0":0.013,"UDP1":0.013,"UDP2":0.013,"UDP3":0.009,"UDP4":0.013},
{"seq":174,"UDP0":0.068,"UDP1":0.068,"UDP2":0.068,"UDP3":0.068,"UDP4":0.068},
{"seq":175,"UDP0":0.012,"UDP1":0.012,"UDP2":0.012,"UDP3":0.009,"UDP4":0.012},
{"seq":176,"UDP0":0.07,"UDP1":0.07,"UDP2":0.07,"UDP3":0.07,"UDP4":0.07},
{"seq":177,"UDP0":0.011,"UDP1":0.011,"UDP2":0.011,"UDP3":0.009,"UDP4":0.011},
{"seq":178,"UDP0":0.068,"UDP1":0.07,"UDP2":0.068,"UDP3":0.068,"UDP4":0.068},
{"seq":179,"UDP0":0.012,"UDP1":0.045,"UDP2":0.012,"UDP3":0.009,"UDP4":0.012},
{"seq":180,"UDP0":0.04,"UDP1":0.07,"UDP2":0.04,"UDP3":0.04,"UDP4":0.04},
{"seq":181,"UDP0":0.012,"UDP1":0.045,"UDP2":0.012,"UDP3":0.009,"UDP4":0.012},
{"seq":182,"UDP0":0.18,"UDP1":0.07,"UDP2":0.07,"UDP3":0.07,"UDP4":0.07},
{"seq":183,"UDP0":0.013,"UDP1":0.013,"UDP2":0.013,"UDP3":0.009,"UDP4":0.013},
{"seq":184,"UDP0":0.217,"UDP1":0.217,"UDP2":0.217,"UDP3":0.217,"UDP4":0.217},
{"seq":185,"UDP0":0.012,"UDP1":0.012,"UDP2":0.012,"UDP3":0.009,"UDP4":0.012},
{"seq":186,"UDP0":0.068,"UDP1":0.068,"UDP2":0.068,"UDP3":0.068,"UDP4":0.068},
{"seq":187,"UDP0":0.011,"UDP1":0.011,"UDP2":0.011,"UDP3":0.009,"UDP4":0.011},
{"seq":188,"UDP0":0.07,"UDP1":0.07,"UDP2":0.07,"UDP3":0.07,"UDP4":0.07},
{"seq":189,"UDP0":0.012,"UDP1":0.012,"UDP2":0.012,"UDP3":0.009,"UDP4":0.012},
{"seq":190,"UDP0":0.072,"UDP1":0.072,"UDP2":0.072,"UDP3":0.072,"UDP4":0.072},
{"seq":191,"UDP0":0.012,"UDP1":0.012,"UDP2":0.012,"UDP3":0.009,"UDP4":0.012},
{"seq":192,"UDP0":0.1,"UDP1":0.1,"UDP2":0.1,"UDP3":0.119,"UDP4":0.1},
{"seq":193,"UDP0":0.013,"UDP1":0.013,"UDP2":0.013,"UDP3":0.009,"UDP4":0.013},
{"seq":194,"UDP0":0.068,"UDP1":0.068,"UDP2":0.068,"UDP3":0.068,"UDP4":0.068},
{"seq":195,"UDP0":0.012,"UDP1":0.012,"UDP2":0.012,"UDP3":0.009,"UDP4":0.012},
{"seq":196,"UDP0":0.04,"UDP1":0.068,"UDP2":0.04,"UDP3":0.04,"UDP4":0.04},
{"seq":197,"UDP0":0.011,"UDP1":0.04,"UDP2":0.011,"UDP3":0.009,"UDP4":0.011},
{"seq":198,"UDP0":0.038,"UDP1":0.068,"UDP2":0.038,"UDP3":0.038,"UDP4":0.038},
{"seq":199,"UDP0":0.012,"UDP1":0.04,"UDP2":0.012,"UDP3":0.009,"UDP4":0.012},
{"seq":200,"UDP0":0.215,"UDP1":0.225,"UDP2":0.215,"UDP3":0.215,"UDP4":0.215},
{"seq":201,"UDP0":0.02,"UDP1":0.02,"UDP2":0.02,"UDP3":0.015,"UDP4":0.02},
{"seq":202,"UDP0":0.083,"UDP1":0.083,"UDP2":0.083,"UDP3":0.083,"UDP4":0.083},
{"seq":203,"UDP0":0.022,"UDP1":0.022,"UDP2":0.022,"UDP3":0.015,"UDP4":0.022},
{"seq":204,"UDP0":0.085,"UDP1":0.085,"UDP2":0.085,"UDP3":0.085,"UDP4":0.085},
{"seq":205,"UDP0":0.018,"UDP1":0.018,"UDP2":0.018,"UDP3":0.012,"UDP4":0.018},
{"seq":206,"UDP0":0.083,"UDP1":0.083,"UDP2":0.083,"UDP3":0.083,"UDP4":0.083},
{"seq":207,"UDP0":0.02,"UDP1":0.02,"UDP2":0.02,"UDP3":0.015,"UDP4":0.02},
{"seq":208,"UDP0":0.139,"UDP1":0.139,"UDP2":0.139,"UDP3":0.1,"UDP4":0.139},
{"seq":209,"UDP0":0.022,"UDP1":0.022,"UDP2":0.022,"UDP3":0.015,"UDP4":0.022},
{"seq":210,"UDP0":0.1,"UDP1":0.1,"UDP2":0.1,"UDP3":0.105,"UDP4":0.1},
{"seq":211,"UDP0":0.025,"UDP1":0.025,"UDP2":0.025,"UDP3":0.025,"UDP4":0.025},
{"seq":212,"UDP0":0.1,"UDP1":0.1,"UDP2":0.1,"UDP3":0.11,"UDP4":0.1},
{"seq":213,"UDP0":0.02,"UDP1":0.02,"UDP2":0.02,"UDP3":0.02,"UDP4":0.02},
{"seq":214,"UDP0":0.098,"UDP1":0.098,"UDP2":0.098,"UDP3":0.105,"UDP4":0.098},
{"seq":215,"UDP0":0.025,"UDP1":0.025,"UDP2":0.025,"UDP3":0.025,"UDP4":0.025},
{"seq":216,"UDP0":0.1,"UDP1":0.1,"UDP2":0.1,"UDP3":0.108,"UDP4":0.1},
{"seq":217,"UDP0":0.03,"UDP1":0.03,"UDP2":0.03,"UDP3":0.03,"UDP4":0.03},
{"seq":218,"UDP0":0.005,"UDP1":0.005,"UDP2":0.005,"UDP3":0.005,"UDP4":0.005},
{"seq":219,"UDP0":0.222,"UDP1":0.222,"UDP2":0.222,"UDP3":0.222,"UDP4":0.222},
{"seq":220,"UDP0":0.185,"UDP1":0.185,"UDP2":0.185,"UDP3":0.185,"UDP4":0.185},
{"seq":221,"UDP0":0.035,"UDP1":0.035,"UDP2":0.035,"UDP3":0.035,"UDP4":0.035},
{"seq":222,"UDP0":0.1,"UDP1":0.1,"UDP2":0.1,"UDP3":0.1,"UDP4":0.1},
{"seq":223,"UDP0":0.04,"UDP1":0.04,"UDP2":0.04,"UDP3":0.04,"UDP4":0.04},
{"seq":224,"UDP0":0.11,"UDP1":0.11,"UDP2":0.11,"UDP3":0.11,"UDP4":0.11},
{"seq":225,"UDP0":0.035,"UDP1":0.035,"UDP2":0.035,"UDP3":0.035,"UDP4":0.035},
{"seq":226,"UDP0":0.115,"UDP1":0.115,"UDP2":0.115,"UDP3":0.115,"UDP4":0.115},
{"seq":227,"UDP0":0.04,"UDP1":0.04,"UDP2":0.04,"UDP3":0.04,"UDP4":0.04},
{"seq":228,"UDP0":0.12,"UDP1":0.12,"UDP2":0.12,"UDP3":0.12,"UDP4":0.12},
{"seq":229,"UDP0":0.045,"UDP1":0.045,"UDP2":0.045,"UDP3":0.045,"UDP4":0.045},
{"seq":230,"UDP0":0.1,"UDP1":0.1,"UDP2":0.1,"UDP3":0.1,"UDP4":0.1}
]
},
"concat":[
{"width":116,"height":83,"data":{"name":"one"},"mark":{"type":"point","opacity":0,"size":0,"strokeWidth":0},
 "encoding":{
  "x":{"datum":0,"type":"quantitative","scale":{"domain":[0,1],"nice":false},"axis":{"orient":"top","domain":true,"domainColor":"black","domainWidth":3,"domainCap":"square","labels":false,"ticks":false,"title":null}},
  "y":{"datum":0,"type":"quantitative","scale":{"domain":[0,1],"nice":false},"axis":{"orient":"left","domain":true,"domainColor":"black","domainWidth":3,"labels":false,"ticks":false,"title":null}}}},
{"width":440,"height":83,"data":{"name":"legend"},
 "encoding":{
  "x":{"field":"col","type":"quantitative","scale":{"domain":[0,3],"nice":false,"zero":false},"axis":{"orient":"top","domain":true,"domainColor":"black","domainWidth":3,"domainCap":"square","labels":false,"ticks":false,"title":null}},
  "y":{"field":"row","type":"quantitative","scale":{"domain":[-0.65,3.5],"reverse":true,"nice":false,"zero":false},"axis":null}},
 "layer":[
  {"mark":{"type":"text","align":"left","baseline":"middle","dx":2,"font":"Liberation Serif","fontSize":18,"fill":"black"},"encoding":{"text":{"field":"label"}}},
  {"transform":[{"filter":"datum.series == 'UDP0'"}],"mark":{"type":"rect","height":0.01,"xOffset":82,"x2Offset":135,"filled":false,"fill":null,"stroke":"#000000","strokeWidth":1.2,"strokeDash":[10,2,2,2]},"encoding":{"x2":{"field":"col"}}},
  {"transform":[{"filter":"datum.series == 'UDP1'"}],"mark":{"type":"rect","height":1.3,"xOffset":82,"x2Offset":135,"filled":true,"fill":"#d04040","stroke":null},"encoding":{"x2":{"field":"col"}}},
  {"transform":[{"filter":"datum.series == 'UDP2'"}],"mark":{"type":"rect","height":1.3,"xOffset":82,"x2Offset":135,"filled":true,"fill":"#30d030","stroke":null},"encoding":{"x2":{"field":"col"}}},
  {"transform":[{"filter":"datum.series == 'UDP3'"}],"mark":{"type":"rect","height":1.2,"xOffset":82,"x2Offset":135,"filled":true,"fill":"#5050b0","fillOpacity":0.8,"stroke":null},"encoding":{"x2":{"field":"col"}}},
  {"transform":[{"filter":"datum.series == 'UDP4'"}],"mark":{"type":"rect","height":1.3,"xOffset":82,"x2Offset":135,"filled":true,"fill":"#e020e0","stroke":null},"encoding":{"x2":{"field":"col"}}}]},
{"width":59,"height":0,"data":{"name":"one"},"mark":{"type":"point","opacity":0,"size":0,"strokeWidth":0},
 "encoding":{"x":{"datum":0,"type":"quantitative","scale":{"domain":[0,1],"nice":false},"axis":{"orient":"top","domain":true,"domainColor":"black","domainWidth":3,"domainCap":"square","labels":false,"ticks":false,"title":null}}}},
{"width":443,"height":83,"data":{"name":"legend"},
 "encoding":{
  "x":{"field":"col","type":"quantitative","scale":{"domain":[0,3],"nice":false,"zero":false},"axis":{"orient":"top","domain":true,"domainColor":"black","domainWidth":3,"domainCap":"square","labels":false,"ticks":false,"title":null}},
  "y":{"field":"row","type":"quantitative","scale":{"domain":[-0.85,3.3],"reverse":true,"nice":false,"zero":false},"axis":null}},
 "layer":[
  {"mark":{"type":"text","align":"left","baseline":"middle","dx":2,"font":"Liberation Serif","fontSize":18,"fill":"black"},"encoding":{"text":{"field":"label"}}},
  {"transform":[{"filter":"datum.series == 'UDP0'"}],"mark":{"type":"rect","height":0.01,"xOffset":82,"x2Offset":135,"filled":false,"fill":null,"stroke":"#000000","strokeWidth":1.2,"strokeDash":[10,2,2,2]},"encoding":{"x2":{"field":"col"}}},
  {"transform":[{"filter":"datum.series == 'UDP1'"}],"mark":{"type":"rect","height":1.3,"xOffset":82,"x2Offset":135,"filled":true,"fill":"#d04040","stroke":null},"encoding":{"x2":{"field":"col"}}},
  {"transform":[{"filter":"datum.series == 'UDP2'"}],"mark":{"type":"rect","height":1.3,"xOffset":82,"x2Offset":135,"filled":true,"fill":"#30d030","stroke":null},"encoding":{"x2":{"field":"col"}}},
  {"transform":[{"filter":"datum.series == 'UDP3'"}],"mark":{"type":"rect","height":1.2,"xOffset":82,"x2Offset":135,"filled":true,"fill":"#5050b0","fillOpacity":0.8,"stroke":null},"encoding":{"x2":{"field":"col"}}},
  {"transform":[{"filter":"datum.series == 'UDP4'"}],"mark":{"type":"rect","height":1.3,"xOffset":82,"x2Offset":135,"filled":true,"fill":"#e020e0","stroke":null},"encoding":{"x2":{"field":"col"}}}]},
{"width":28,"height":0,"data":{"name":"one"},"mark":{"type":"point","opacity":0,"size":0,"strokeWidth":0},
 "encoding":{"x":{"datum":0,"type":"quantitative","scale":{"domain":[0,1],"nice":false},"axis":{"orient":"top","domain":true,"domainColor":"black","domainWidth":3,"domainCap":"square","labels":false,"ticks":false,"title":null}}}},
{"width":116,"height":267,"data":{"name":"one"},"mark":{"type":"point","opacity":0,"size":0,"strokeWidth":0},
 "encoding":{"y":{"datum":0,"type":"quantitative","scale":{"domain":[0,1],"nice":false},"axis":{"orient":"left","domain":true,"domainColor":"black","domainWidth":3,"labels":false,"ticks":false,"title":null}}}},
{"width":440,"height":266,"view":{"stroke":"black","strokeWidth":1},
 "layer":[
  {"data":{"name":"left"},"transform":[{"fold":["UDP0","UDP1","UDP2","UDP3","UDP4"],"as":["series","jitter"]}],
   "mark":{"type":"line","strokeWidth":3,"invalid":"filter"},
   "encoding":{
    "x":{"field":"seq","type":"quantitative","scale":{"domain":[0,250],"nice":false,"zero":false},"axis":{"values":[0,50,100,150,200,250],"format":"d","labelPadding":9,"title":"Sequence No.","titleFontSize":16,"titlePadding":11,"titleX":204}},
    "y":{"field":"jitter","type":"quantitative","scale":{"domain":[0,0.35],"nice":false},"axis":{"values":[0,0.05,0.1,0.15,0.2,0.25,0.3,0.35],"format":".2~f","labelPadding":11,"title":"Jitter ( Seconds )","titleFontSize":18,"titlePadding":38}},
    "stroke":{"field":"series","type":"nominal","scale":{"domain":["UDP0","UDP1","UDP2","UDP3","UDP4"],"range":["#000000","#ff0000","#00cc00","#1010dd","#ff00ff"]},"legend":null}}},
  {"data":{"name":"one"},"mark":{"type":"point","opacity":0,"size":0,"strokeWidth":0},
   "encoding":{
    "x":{"datum":0,"type":"quantitative","axis":{"orient":"top","offset":-6,"values":[50,100,150,200],"ticks":true,"tickSize":6,"tickColor":"black","tickWidth":1,"labels":false,"title":null}},
    "y":{"datum":0,"type":"quantitative","axis":{"orient":"right","offset":-6,"values":[0.05,0.1,0.15,0.2,0.25,0.3],"ticks":true,"tickSize":6,"tickColor":"black","tickWidth":1,"labels":false,"title":null}}}}],
 "resolve":{"axis":{"x":"independent","y":"independent"}}},
{"width":0,"height":0,"data":{"name":"one"},"mark":{"type":"point","opacity":0,"size":0,"strokeWidth":0}},
{"width":443,"height":267,"view":{"stroke":"black","strokeWidth":1},
 "layer":[
  {"data":{"name":"right"},"transform":[{"fold":["UDP0","UDP1","UDP2","UDP3","UDP4"],"as":["series","jitter"]}],
   "mark":{"type":"line","strokeWidth":3,"invalid":"filter"},
   "encoding":{
    "x":{"field":"seq","type":"quantitative","scale":{"domain":[0,250],"nice":false,"zero":false},"axis":{"values":[0,50,100,150,200,250],"format":"d","labelPadding":9,"title":"Sequence No.","titleFontSize":16,"titlePadding":11}},
    "y":{"field":"jitter","type":"quantitative","scale":{"domain":[0,0.35],"nice":false},"axis":{"values":[0,0.05,0.1,0.15,0.2,0.25,0.3,0.35],"format":".2~f","labelPadding":11,"title":null,
      "labelExpr":"datum.label == '0.35' ? '35' : datum.label == '0.3' ? '.3' : datum.label == '0.25' ? '25' : datum.label == '0.2' ? '.2' : datum.label == '0.15' ? '15' : datum.label == '0.1' ? '.1' : datum.label == '0.05' ? '05' : '0'"}},
    "stroke":{"field":"series","type":"nominal","scale":{"domain":["UDP0","UDP1","UDP2","UDP3","UDP4"],"range":["#000000","#ff0000","#00cc00","#1010dd","#ff00ff"]},"legend":null}}},
  {"data":{"name":"one"},"mark":{"type":"point","opacity":0,"size":0,"strokeWidth":0},
   "encoding":{
    "x":{"datum":0,"type":"quantitative","axis":{"orient":"top","offset":-6,"values":[50,100,150,200],"ticks":true,"tickSize":6,"tickColor":"black","tickWidth":1,"labels":false,"title":null}},
    "y":{"datum":0,"type":"quantitative","axis":{"orient":"right","offset":-6,"values":[0.05,0.1,0.15,0.2,0.25,0.3],"ticks":true,"tickSize":6,"tickColor":"black","tickWidth":1,"labels":false,"title":null}}}}],
 "resolve":{"axis":{"x":"independent","y":"independent"}}},
{"width":0,"height":0,"data":{"name":"one"},"mark":{"type":"point","opacity":0,"size":0,"strokeWidth":0}},
{"width":116,"height":96,"data":{"name":"one"},"mark":{"type":"point","opacity":0,"size":0,"strokeWidth":0},
 "encoding":{"y":{"datum":0,"type":"quantitative","scale":{"domain":[0,1],"nice":false},"axis":{"orient":"left","domain":true,"domainColor":"black","domainWidth":3,"labels":false,"ticks":false,"title":null}}}},
{"width":440,"height":96,"data":{"name":"one"},
 "encoding":{"x":{"datum":0.5,"type":"quantitative","scale":{"domain":[0,1],"nice":false},"axis":null},"y":{"datum":0.823,"type":"quantitative","scale":{"domain":[0,1],"reverse":true,"nice":false},"axis":null}},
 "layer":[
  {"mark":{"type":"rect","width":201,"height":28,"cornerRadius":14,"fill":"white","stroke":"black","strokeWidth":1.3}},
  {"mark":{"type":"text","text":"Without LSP-PHS","font":"Liberation Sans","fontWeight":"bold","fontSize":22,"fill":"black","align":"center","baseline":"middle"}}]},
{"width":0,"height":0,"data":{"name":"one"},"mark":{"type":"point","opacity":0,"size":0,"strokeWidth":0}},
{"width":443,"height":96,"data":{"name":"one"},
 "encoding":{"x":{"datum":0.5,"type":"quantitative","scale":{"domain":[0,1],"nice":false},"axis":null},"y":{"datum":0.849,"type":"quantitative","scale":{"domain":[0,1],"reverse":true,"nice":false},"axis":null}},
 "layer":[
  {"mark":{"type":"rect","width":195,"height":28,"cornerRadius":14,"fill":"white","stroke":"black","strokeWidth":1.3}},
  {"mark":{"type":"text","text":"With LSP-PHS","font":"Liberation Sans","fontWeight":"bold","fontSize":22,"fill":"black","align":"center","baseline":"middle"}}]}
]
}
